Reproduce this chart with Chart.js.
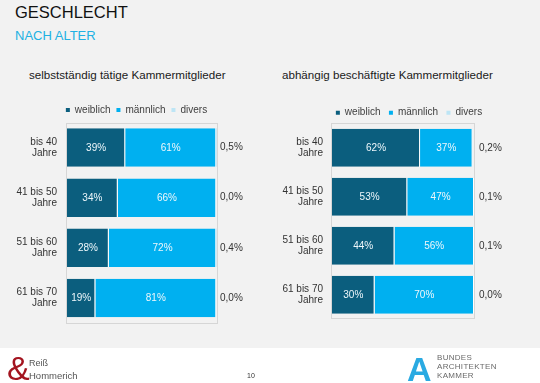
<!DOCTYPE html>
<html>
<head>
<meta charset="utf-8">
<script src="https://cdn.jsdelivr.net/npm/chart.js@4"></script>
<style>
  html, body { margin: 0; padding: 0; }
  body { width: 540px; height: 383px; position: relative; overflow: hidden; background: #fff;
         font-family: "Liberation Sans", Arial, sans-serif; }
  #slide { position: absolute; left: 0; top: 0; width: 540px; height: 348px; background: #f2f2f2; }
  .t { position: absolute; white-space: nowrap; line-height: 1; }
  .box { position: absolute; top: 90px; width: 270px; height: 260px; }
</style>
</head>
<body>
<div id="slide"></div>

<div class="t" style="left:15px; top:4px; font-size:16.5px; color:#111;">GESCHLECHT</div>
<div class="t" style="left:15px; top:29px; font-size:13px; color:#21b1e3;">NACH ALTER</div>
<div class="t" style="left:29px; top:69px; font-size:11.6px; color:#1a1a1a;">selbstständig tätige Kammermitglieder</div>
<div class="t" style="left:282px; top:69px; font-size:11.6px; color:#1a1a1a;">abhängig beschäftigte Kammermitglieder</div>

<div class="box" style="left:0;"><canvas id="chartSelbst" width="270" height="260"></canvas></div>
<div class="box" style="left:270px;"><canvas id="chartAbh" width="270" height="260"></canvas></div>

<!-- Fußzeile -->
<div class="t" style="left:7px; top:351px; font-size:34px; color:#a3141f;">&amp;</div>
<div class="t" style="left:29px; top:359px; font-size:9px; color:#555;">Reiß</div>
<div class="t" style="left:29px; top:371px; font-size:9.5px; color:#555;">Hommerich</div>
<div class="t" style="left:247px; top:372px; font-size:7px; color:#333;">10</div>
<div class="t" style="left:407px; top:352px; font-size:34px; font-weight:bold; color:#2aaae2;">A</div>
<div class="t" style="left:437px; top:353px; font-size:8px; line-height:9px; color:#6a6a6a; letter-spacing:0.3px;">BUNDES<br>ARCHITEKTEN<br>KAMMER</div>

<script>
// Altersgruppen (Kategorien)
const ageGroups = [['bis 40', 'Jahre'], ['41 bis 50', 'Jahre'], ['51 bis 60', 'Jahre'], ['61 bis 70', 'Jahre']];
const seriesNames = ['weiblich', 'männlich', 'divers'];

// selbstständig tätige Kammermitglieder (%)
const selbstWeiblich = [39, 34, 28, 19];
const selbstMaennlich = [61, 66, 72, 81];
const selbstDivers = [0.5, 0.0, 0.4, 0.0];

// abhängig beschäftigte Kammermitglieder (%)
const abhWeiblich = [62, 53, 44, 30];
const abhMaennlich = [37, 47, 56, 70];
const abhDivers = [0.2, 0.1, 0.1, 0.0];

const DARK = '#0b5e7e';
const BLUE = '#00b0f0';
const LIGHT = '#bde5f5';
const FONT = '"Liberation Sans", Arial, sans-serif';

// Anteil divers als deutscher Text, z.B. 0,5%
function fmtDivers(v) {
    return v.toFixed(1).replace('.', ',') + '%';
}

// Rahmen um die Plotfläche
const framePlugin = {
    id: 'frame',
    beforeDatasetsDraw(chart) {
        const a = chart.chartArea;
        const ctx = chart.ctx;
        ctx.save();
        ctx.strokeStyle = '#d6d6d6';
        ctx.lineWidth = 1;
        ctx.strokeRect(Math.round(a.left) - 0.5, Math.round(a.top) + 0.5,
            Math.round(a.right - a.left) + 1, Math.round(a.bottom - a.top) - 1);
        ctx.restore();
    }
};

// Prozentwerte in den Balken (weiblich, männlich)
const valuePlugin = {
    id: 'values',
    afterDatasetsDraw(chart) {
        const ctx = chart.ctx;
        ctx.save();
        ctx.font = '10px ' + FONT;
        ctx.fillStyle = '#eef7fb';
        ctx.textAlign = 'center';
        ctx.textBaseline = 'middle';
        [0, 1].forEach(i => {
            const meta = chart.getDatasetMeta(i);
            meta.data.forEach((bar, j) => {
                const v = chart.data.datasets[i].data[j];
                ctx.fillText(v + '%', (bar.x + bar.base) / 2, bar.y + 0.5);
            });
        });
        ctx.restore();
    }
};

function makeChart(id, weiblich, maennlich, divers, cfg) {
    const values = [weiblich, maennlich, divers];
    const colors = [DARK, BLUE, LIGHT];
    return new Chart(document.getElementById(id), {
        type: 'bar',
        data: {
            labels: ageGroups,
            datasets: seriesNames.map((name, i) => ({
                label: name,
                data: values[i],
                backgroundColor: colors[i],
                borderColor: '#ffffff',
                borderWidth: i < 2 ? { right: 1, left: 0, top: 0, bottom: 0 } : 0,
                borderSkipped: false,
                barPercentage: cfg.barPct,
                categoryPercentage: 1
            }))
        },
        options: {
            indexAxis: 'y',
            responsive: false,
            animation: false,
            layout: { padding: cfg.padding },
            scales: {
                x: { stacked: true, display: false, min: 0, max: cfg.xMax },
                y: {
                    stacked: true,
                    grid: { display: false, drawTicks: false },
                    border: { display: false },
                    ticks: { autoSkip: false, padding: cfg.tickPad, color: '#333',
                             font: { size: 10, family: FONT, lineHeight: 1.1 } },
                    afterFit(s) { s.width = cfg.yw; }
                },
                y2: {
                    type: 'category',
                    position: 'right',
                    labels: divers.map(fmtDivers),
                    offset: true,
                    grid: { display: false, drawTicks: false },
                    border: { display: false },
                    ticks: { autoSkip: false, padding: cfg.rightPad, color: '#333',
                             font: { size: 10, family: FONT } },
                    afterFit(s) { s.width = cfg.rw; }
                }
            },
            plugins: {
                legend: {
                    position: 'top',
                    align: 'center',
                    maxHeight: cfg.legendH,
                    labels: {
                        boxWidth: 4,
                        boxHeight: 4,
                        padding: cfg.legendPad,
                        color: '#404040',
                        font: { size: 10, family: FONT },
                        generateLabels(chart) {
                            return Chart.defaults.plugins.legend.labels.generateLabels(chart)
                                .map(l => Object.assign(l, { lineWidth: 0 }));
                        }
                    }
                },
                tooltip: { enabled: false }
            }
        },
        plugins: [framePlugin, valuePlugin]
    });
}

makeChart('chartSelbst', selbstWeiblich, selbstMaennlich, selbstDivers, {
    padding: { top: 9, left: 3, right: 0, bottom: 27 },
    legendH: 23.5, legendPad: 6,
    yw: 64, rw: 53, tickPad: 10, rightPad: 3,
    barPct: 0.766, xMax: 100.5
});

makeChart('chartAbh', abhWeiblich, abhMaennlich, abhDivers, {
    padding: { top: 9.2, left: 8, right: 0, bottom: 30.7 },
    legendH: 24.1, legendPad: 8.5,
    yw: 54, rw: 66, tickPad: 9, rightPad: 5,
    barPct: 0.775, xMax: 100
});
</script>
</body>
</html>
